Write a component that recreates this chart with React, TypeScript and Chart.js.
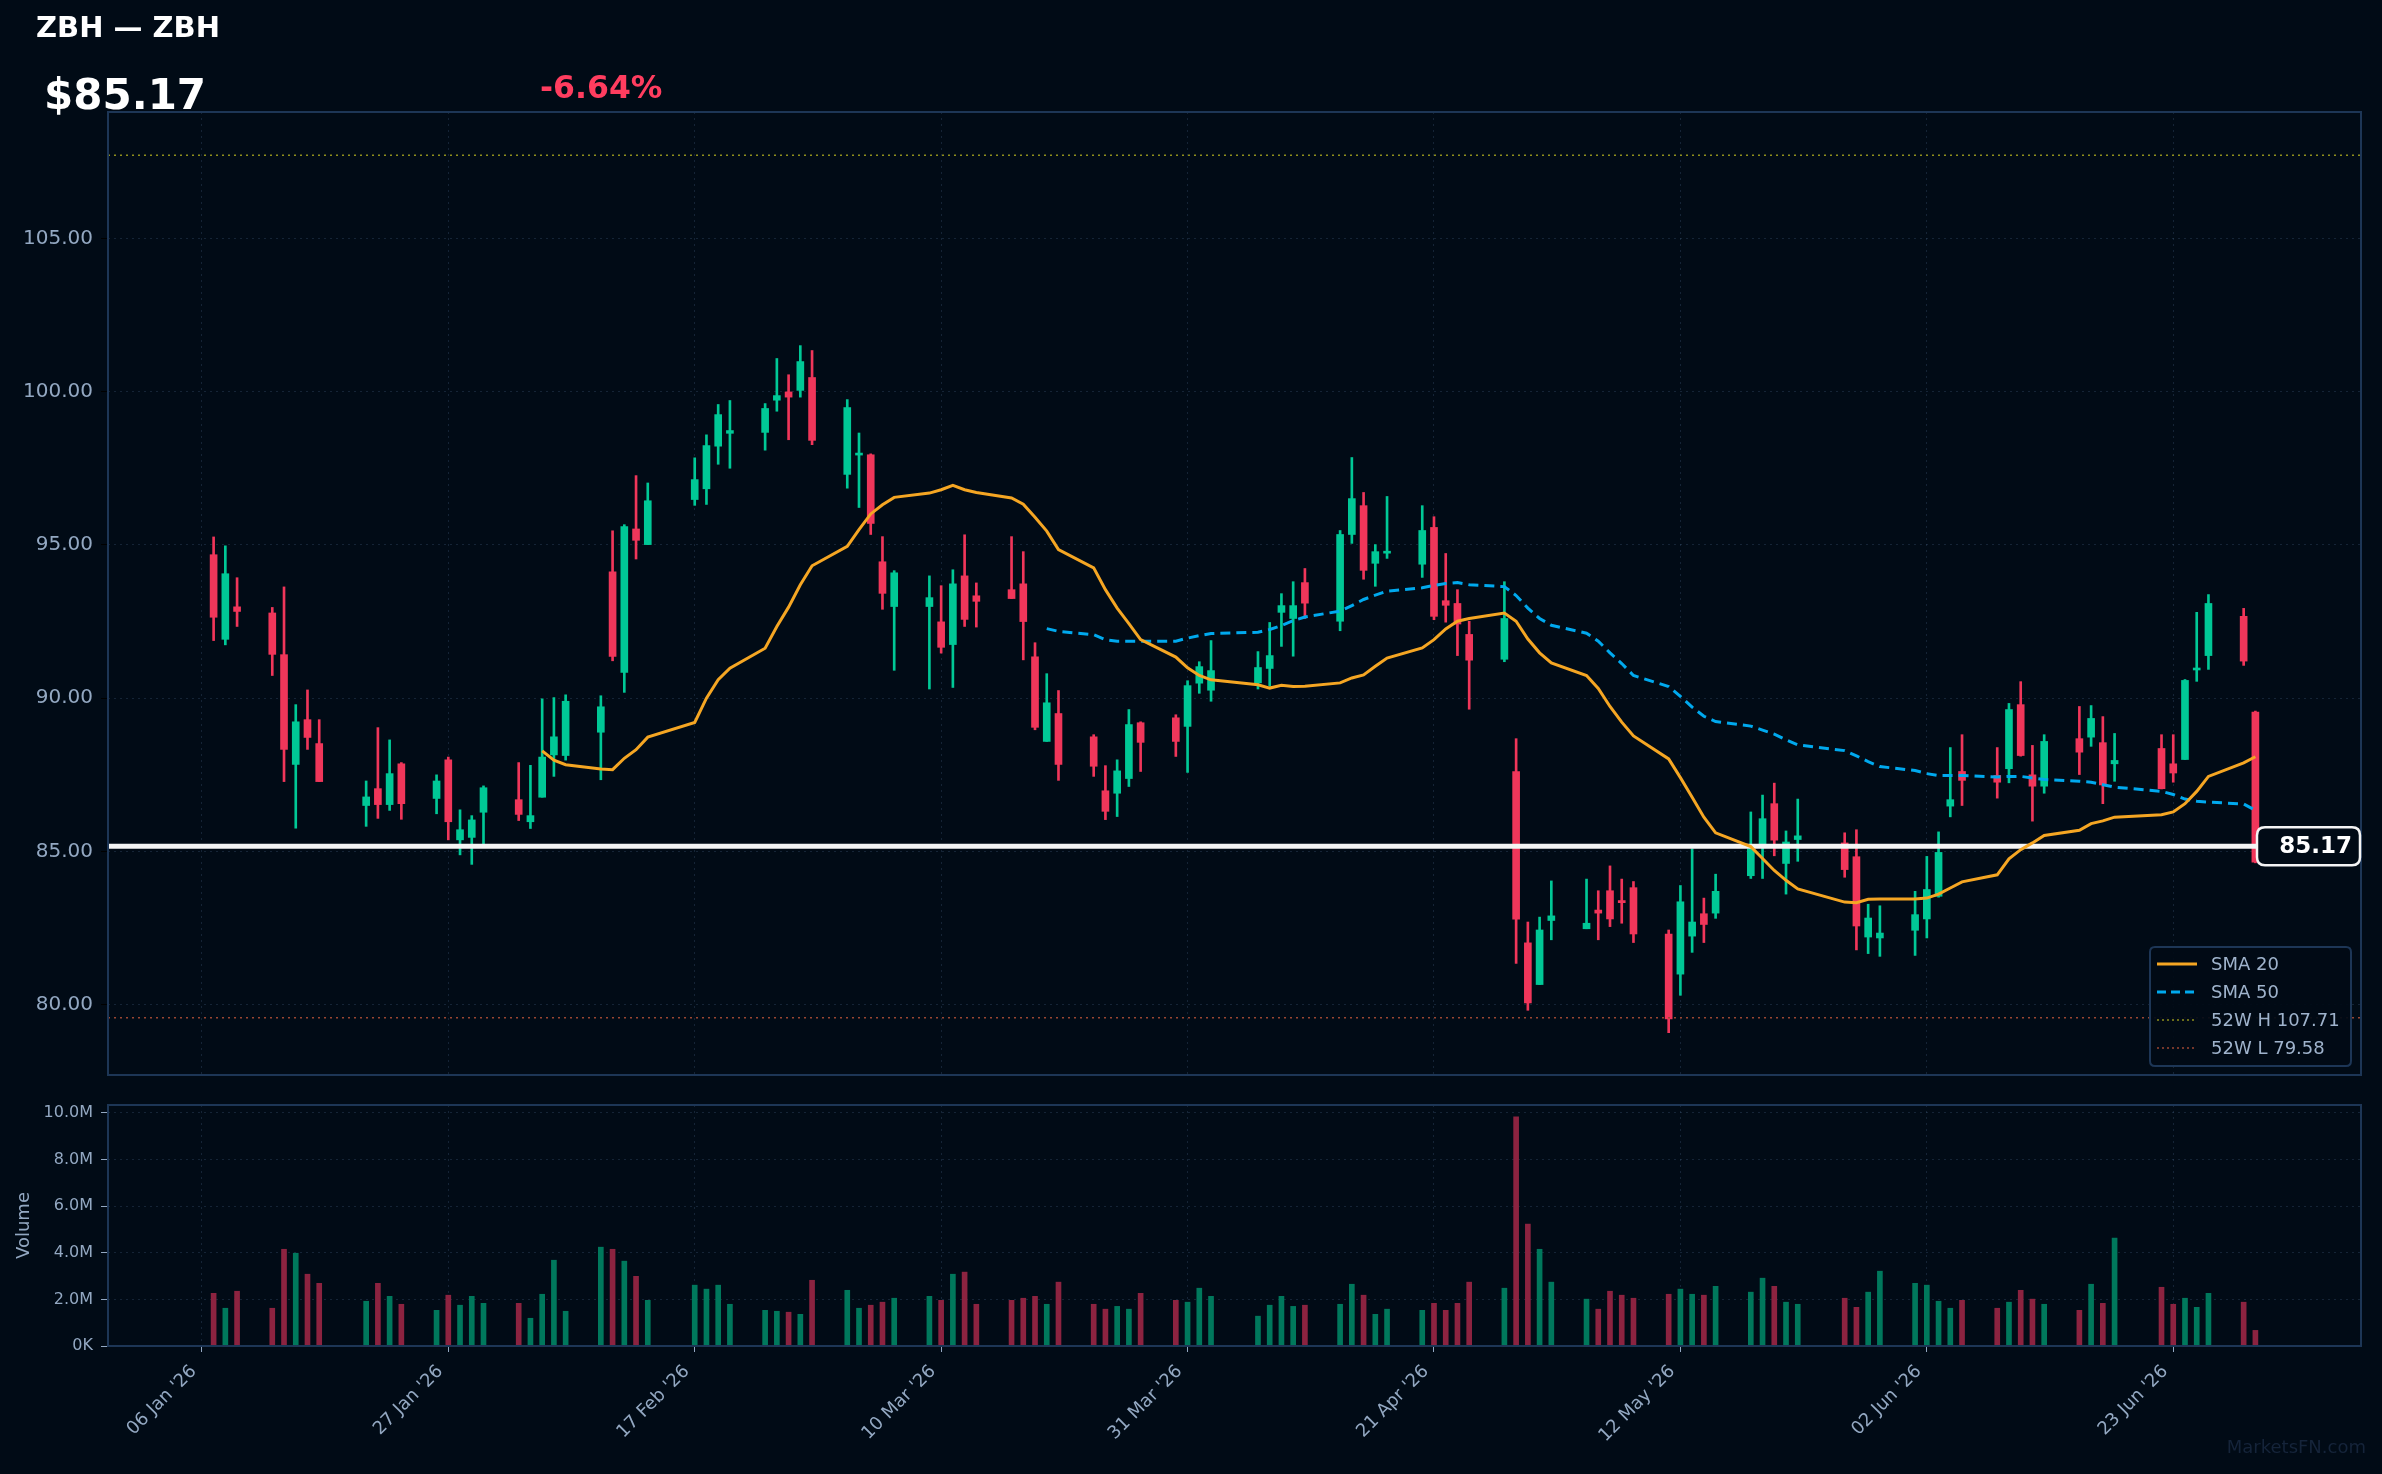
import React, { useEffect, useRef } from "react";
import { Chart, registerables } from "chart.js";

Chart.register(...registerables);

// ---------------- data ----------------
const TICKER = "ZBH — ZBH";
const LAST_PRICE = 85.17;
const CHANGE_PCT = -6.64;
const HIGH_52W = 107.71;
const LOW_52W = 79.58;

const DATES = [
  "2026-01-07","2026-01-08","2026-01-09","2026-01-12","2026-01-13","2026-01-14","2026-01-15","2026-01-16","2026-01-20","2026-01-21","2026-01-22","2026-01-23","2026-01-26","2026-01-27","2026-01-28","2026-01-29","2026-01-30",
  "2026-02-02","2026-02-03","2026-02-04","2026-02-05","2026-02-06","2026-02-09","2026-02-10","2026-02-11","2026-02-12","2026-02-13","2026-02-17","2026-02-18","2026-02-19","2026-02-20","2026-02-23","2026-02-24","2026-02-25","2026-02-26","2026-02-27",
  "2026-03-02","2026-03-03","2026-03-04","2026-03-05","2026-03-06","2026-03-09","2026-03-10","2026-03-11","2026-03-12","2026-03-13","2026-03-16","2026-03-17","2026-03-18","2026-03-19","2026-03-20","2026-03-23","2026-03-24","2026-03-25","2026-03-26","2026-03-27","2026-03-30","2026-03-31",
  "2026-04-01","2026-04-02","2026-04-06","2026-04-07","2026-04-08","2026-04-09","2026-04-10","2026-04-13","2026-04-14","2026-04-15","2026-04-16","2026-04-17","2026-04-20","2026-04-21","2026-04-22","2026-04-23","2026-04-24","2026-04-27","2026-04-28","2026-04-29","2026-04-30",
  "2026-05-01","2026-05-04","2026-05-05","2026-05-06","2026-05-07","2026-05-08","2026-05-11","2026-05-12","2026-05-13","2026-05-14","2026-05-15","2026-05-18","2026-05-19","2026-05-20","2026-05-21","2026-05-22","2026-05-26","2026-05-27","2026-05-28","2026-05-29",
  "2026-06-01","2026-06-02","2026-06-03","2026-06-04","2026-06-05","2026-06-08","2026-06-09","2026-06-10","2026-06-11","2026-06-12","2026-06-15","2026-06-16","2026-06-17","2026-06-18","2026-06-22","2026-06-23","2026-06-24","2026-06-25","2026-06-26","2026-06-29","2026-06-30",
];

const OPEN = [
  94.68, 91.92, 92.98, 92.78, 91.42, 87.84, 89.30, 88.52, 86.50, 87.05, 86.53, 87.86, 86.73, 87.99, 85.38, 85.46, 86.28,
  86.69, 85.97, 86.77, 88.15, 88.13, 88.89, 94.12, 90.84, 95.52, 95.01, 96.48, 96.83, 98.22, 98.64, 98.67, 99.72, 99.99, 100.04, 100.46,
  97.30, 97.93, 97.94, 94.45, 92.99, 92.99, 92.49, 91.75, 93.99, 93.34, 93.54, 93.73, 91.35, 88.59, 89.50, 88.74, 86.98, 86.90, 87.38, 89.20, 89.36, 89.08,
  90.49, 90.26, 90.50, 90.97, 92.80, 92.60, 93.77, 92.51, 95.34, 96.28, 94.40, 94.73, 94.37, 95.57, 93.18, 93.09, 92.08, 91.27, 87.61, 82.02, 80.66,
  82.75, 82.48, 83.09, 83.72, 83.40, 83.82, 82.31, 81.00, 82.24, 82.97, 82.99, 84.21, 85.22, 86.56, 84.61, 85.39, 85.28, 84.83, 82.21, 82.18,
  82.43, 82.80, 83.54, 86.48, 87.61, 87.48, 87.70, 89.79, 87.50, 87.13, 88.68, 88.73, 88.55, 87.86, 88.36, 87.86, 88.00, 90.92, 91.39, 92.67, 89.55,
];

const HIGH = [
  95.26, 94.97, 93.93, 92.96, 93.63, 89.79, 90.27, 89.30, 87.30, 89.04, 88.64, 87.90, 87.50, 88.08, 86.36, 86.17, 87.14,
  87.90, 87.81, 89.98, 90.02, 90.11, 90.08, 95.46, 95.66, 97.26, 97.02, 97.84, 98.59, 99.58, 99.71, 99.61, 101.08, 100.55, 101.50, 101.34,
  99.74, 98.65, 97.97, 95.27, 94.16, 93.99, 93.67, 94.19, 95.33, 93.76, 95.27, 94.78, 91.81, 90.80, 90.25, 88.81, 87.80, 87.99, 89.63, 89.23, 89.46, 90.57,
  91.19, 91.88, 91.52, 92.47, 93.41, 93.80, 94.23, 95.47, 97.85, 96.71, 95.01, 96.58, 96.28, 95.92, 94.72, 93.54, 92.51, 93.80, 88.68, 82.70, 82.86,
  84.04, 84.10, 83.72, 84.53, 84.10, 84.02, 82.44, 83.89, 85.09, 83.48, 84.26, 86.29, 86.84, 87.23, 85.67, 86.71, 85.61, 85.71, 83.28, 83.23,
  83.70, 84.84, 85.64, 88.39, 88.81, 88.39, 89.83, 90.54, 88.46, 88.81, 89.73, 89.76, 89.40, 88.85, 88.81, 88.81, 90.61, 92.80, 93.38, 92.93, 89.58,
];

const LOW = [
  91.88, 91.74, 92.34, 90.74, 87.28, 85.76, 88.33, 87.28, 85.82, 86.08, 86.34, 86.05, 86.23, 85.38, 84.89, 84.58, 85.18,
  86.01, 85.75, 86.77, 87.45, 87.98, 87.34, 91.22, 90.19, 94.54, 95.01, 96.29, 96.32, 97.63, 97.50, 98.09, 99.36, 98.43, 99.82, 98.27,
  96.85, 96.22, 95.34, 92.90, 90.91, 90.30, 91.47, 90.35, 92.34, 92.32, 93.25, 91.25, 88.97, 88.59, 87.32, 87.45, 86.04, 86.14, 87.12, 87.61, 88.10, 87.58,
  90.16, 89.90, 90.30, 90.39, 91.69, 91.37, 92.60, 92.20, 95.05, 93.88, 93.65, 94.56, 93.94, 92.56, 92.48, 91.39, 89.64, 91.19, 81.35, 79.82, 80.66,
  82.12, 82.48, 82.12, 82.55, 82.66, 82.03, 79.09, 80.31, 81.71, 82.03, 82.82, 84.12, 84.12, 84.86, 83.61, 84.68, 84.16, 81.79, 81.67, 81.58,
  81.61, 82.18, 83.51, 86.13, 86.50, 86.74, 87.24, 88.11, 85.99, 86.90, 87.51, 88.43, 86.56, 87.29, 87.04, 87.26, 88.00, 90.55, 90.94, 91.07, 84.63,
];

const CLOSE = [
  92.64, 94.06, 92.83, 91.43, 88.33, 89.23, 88.72, 87.28, 86.78, 86.53, 87.54, 86.56, 87.30, 85.97, 85.71, 86.03, 87.08,
  86.21, 86.17, 88.08, 88.74, 89.90, 89.72, 91.36, 95.60, 95.15, 96.44, 97.13, 98.24, 99.25, 98.73, 99.45, 99.87, 99.82, 100.98, 98.41,
  99.48, 97.97, 95.70, 93.42, 94.09, 93.28, 91.66, 93.73, 92.57, 93.16, 93.25, 92.50, 89.05, 89.85, 87.84, 87.78, 86.31, 87.63, 89.14, 88.56, 88.59, 90.41,
  91.03, 90.90, 91.00, 91.39, 93.02, 93.02, 93.10, 95.34, 96.51, 94.17, 94.78, 94.78, 95.47, 92.67, 93.03, 92.42, 91.24, 92.60, 82.79, 80.06, 82.44,
  82.90, 82.66, 82.99, 82.80, 83.33, 82.31, 79.54, 83.36, 82.70, 82.62, 83.70, 85.09, 86.07, 85.37, 85.31, 85.51, 84.41, 82.57, 82.83, 82.34,
  82.94, 83.76, 84.97, 86.69, 87.32, 87.26, 89.63, 88.13, 87.13, 88.59, 88.24, 89.34, 87.17, 87.97, 87.05, 87.56, 90.58, 90.97, 93.09, 91.21, 84.65,
];

// volume in millions of shares
const VOLUME = [
  2.26, 1.62, 2.35, 1.62, 4.15, 3.98, 3.08, 2.69, 1.92, 2.69, 2.13, 1.79, 1.53, 2.18, 1.75, 2.13, 1.83,
  1.83, 1.19, 2.22, 3.68, 1.49, 4.24, 4.15, 3.64, 2.99, 1.96, 2.61, 2.44, 2.61, 1.79, 1.53, 1.49, 1.45, 1.36, 2.82,
  2.39, 1.62, 1.75, 1.88, 2.05, 2.13, 1.96, 3.08, 3.17, 1.79, 1.96, 2.05, 2.13, 1.79, 2.74, 1.79, 1.58, 1.70, 1.58, 2.26, 1.96, 1.88,
  2.48, 2.13, 1.28, 1.75, 2.13, 1.70, 1.75, 1.79, 2.65, 2.18, 1.36, 1.58, 1.53, 1.83, 1.53, 1.83, 2.74, 2.48, 9.83, 5.23, 4.15,
  2.74, 2.01, 1.58, 2.35, 2.18, 2.05, 2.22, 2.44, 2.22, 2.18, 2.56, 2.31, 2.91, 2.56, 1.88, 1.79, 2.05, 1.66, 2.31, 3.21,
  2.69, 2.61, 1.92, 1.62, 1.96, 1.62, 1.88, 2.39, 2.01, 1.79, 1.53, 2.65, 1.83, 4.63, 2.52, 1.79, 2.05, 1.66, 2.26, 1.88, 0.67,
];

// SMA 20 from 2026-02-04 onward, SMA 50 from 2026-03-19 onward (as drawn)
const SMA20_START = "2026-02-04";
const SMA20 = [
  88.28, 87.98, 87.83, 87.69, 87.67, 88.04, 88.32, 88.73, 89.21, 90.00, 90.60, 90.98, 91.63, 92.34, 92.97, 93.70, 94.32,
  94.95, 95.50, 96.01, 96.31, 96.55, 96.69, 96.80, 96.94, 96.80, 96.71, 96.53, 96.33, 95.90, 95.45, 94.85, 94.25, 93.54, 92.94, 92.43, 91.91, 91.34, 90.99,
  90.74, 90.60, 90.44, 90.33, 90.42, 90.38, 90.39, 90.50, 90.66, 90.76, 91.04, 91.31, 91.64, 91.91, 92.26, 92.51, 92.60, 92.78, 92.51, 91.93, 91.48,
  91.15, 90.74, 90.32, 89.73, 89.22, 88.77, 88.02, 87.41, 86.77, 86.12, 85.61, 85.16, 84.77, 84.38, 84.06, 83.78, 83.35, 83.33, 83.44, 83.45,
  83.45, 83.48, 83.61, 83.81, 84.01, 84.24, 84.76, 85.06, 85.28, 85.52, 85.69, 85.91, 86.00, 86.12, 86.20, 86.29, 86.56, 86.96, 87.45, 87.89, 88.09,
];
const SMA50_START = "2026-03-19";
const SMA50 = [
  92.27, 92.18, 92.07, 91.91, 91.86, 91.86, 91.86, 91.86, 91.96,
  92.04, 92.11, 92.15, 92.24, 92.37, 92.53, 92.65, 92.84, 93.02, 93.22, 93.36, 93.49, 93.60, 93.68, 93.74, 93.77, 93.70, 93.64, 93.35, 92.94, 92.60,
  92.38, 92.12, 91.86, 91.48, 91.13, 90.74, 90.38, 90.06, 89.71, 89.41, 89.24, 89.09, 88.96, 88.83, 88.64, 88.48, 88.29, 88.12, 87.93, 87.77,
  87.64, 87.54, 87.48, 87.48, 87.48, 87.43, 87.45, 87.45, 87.40, 87.35, 87.29, 87.26, 87.18, 87.10, 86.96, 86.86, 86.71, 86.64, 86.61, 86.55, 86.34,
];

const DATE_TICKS = ["2026-01-06","2026-01-27","2026-02-17","2026-03-10","2026-03-31","2026-04-21","2026-05-12","2026-06-02","2026-06-23"];
const DATE_TICK_LABELS = ["06 Jan '26","27 Jan '26","17 Feb '26","10 Mar '26","31 Mar '26","21 Apr '26","12 May '26","02 Jun '26","23 Jun '26"];
const PRICE_TICKS = [80, 85, 90, 95, 100, 105];
const VOLUME_TICKS = [0, 2, 4, 6, 8, 10]; // millions

// ---------------- styling ----------------
const W = 2382;
const H = 1474;
const FONT = "'DejaVu Sans', 'Noto Sans', sans-serif";
const BG = "#010b16";
const PANEL_BORDER = "#1d3656";
const TICK_TEXT = "#93a8c2";
const GRID = "rgba(70,95,130,0.30)";
const UP = "#00c896";
const DOWN = "#f0365a";
const UP_VOL = "#00785c";
const DOWN_VOL = "#8c2340";
const SMA20_COLOR = "#f5a623";
const SMA50_COLOR = "#00a9ee";
const H52_COLOR = "#8f8f1c";
const L52_COLOR = "#9a4632";

function dayNum(s: string): number {
  const y = +s.slice(0, 4), m = +s.slice(5, 7) - 1, d = +s.slice(8, 10);
  return (Date.UTC(y, m, d) - Date.UTC(2026, 0, 1)) / 86400000;
}

const noPad = (s: any) => {
  s.paddingTop = 0;
  s.paddingBottom = 0;
  s.paddingLeft = 0;
  s.paddingRight = 0;
};

export default function App() {
  const priceRef = useRef<HTMLCanvasElement>(null);
  const volRef = useRef<HTMLCanvasElement>(null);

  useEffect(() => {
    Chart.defaults.font.family = FONT;
    const xDays = DATES.map(dayNum);
    const X_MIN = xDays[0] - 9;
    const X_MAX = xDays[xDays.length - 1] + 9;
    const tickDays = DATE_TICKS.map(dayNum);
    const Y_MIN = 77.71;
    const Y_MAX = 109.12;
    const VOL_MAX = 10.34e6;

    const up = (i: number) => CLOSE[i] >= OPEN[i];
    const candleColors = xDays.map((_, i) => (up(i) ? UP : DOWN));
    const volColors = xDays.map((_, i) => (up(i) ? UP_VOL : DOWN_VOL));

    const s20 = DATES.indexOf(SMA20_START);
    const s50 = DATES.indexOf(SMA50_START);
    const sma20Data = SMA20.map((v, k) => ({ x: xDays[s20 + k], y: v }));
    const sma50Data = SMA50.map((v, k) => ({ x: xDays[s50 + k], y: v }));

    const bgPlugin = {
      id: "bg",
      beforeDraw(chart: any) {
        const ctx = chart.ctx;
        ctx.save();
        ctx.fillStyle = BG;
        ctx.fillRect(0, 0, chart.width, chart.height);
        ctx.restore();
      },
    };

    const borderPlugin = {
      id: "panelBorder",
      afterDraw(chart: any) {
        const { ctx, chartArea: a } = chart;
        ctx.save();
        ctx.strokeStyle = PANEL_BORDER;
        ctx.lineWidth = 2;
        ctx.strokeRect(a.left, a.top, a.right - a.left, a.bottom - a.top);
        ctx.restore();
      },
    };

    const rr = (ctx: any, x: number, y: number, w: number, h: number, r: number) => {
      ctx.beginPath();
      ctx.moveTo(x + r, y);
      ctx.lineTo(x + w - r, y);
      ctx.quadraticCurveTo(x + w, y, x + w, y + r);
      ctx.lineTo(x + w, y + h - r);
      ctx.quadraticCurveTo(x + w, y + h, x + w - r, y + h);
      ctx.lineTo(x + r, y + h);
      ctx.quadraticCurveTo(x, y + h, x, y + h - r);
      ctx.lineTo(x, y + r);
      ctx.quadraticCurveTo(x, y, x + r, y);
      ctx.closePath();
    };

    const decoPlugin = {
      id: "priceDeco",
      afterDraw(chart: any) {
        const { ctx, chartArea: a, scales } = chart;
        ctx.save();
        // header texts
        ctx.textBaseline = "alphabetic";
        ctx.textAlign = "left";
        ctx.fillStyle = "#ffffff";
        ctx.font = `bold 29px ${FONT}`;
        ctx.fillText(TICKER, 36, 37);
        ctx.font = `bold 42px ${FONT}`;
        ctx.fillText(`$${LAST_PRICE.toFixed(2)}`, 44, 109);
        ctx.fillStyle = CHANGE_PCT < 0 ? "#ff3d5f" : UP;
        ctx.font = `bold 31.5px ${FONT}`;
        ctx.fillText(`${CHANGE_PCT.toFixed(2)}%`, 540, 98);

        // last price label box
        const py = scales.y.getPixelForValue(LAST_PRICE);
        const bx = a.right - 104, bw = 103, bh = 38;
        rr(ctx, bx, py - bh / 2, bw, bh, 8);
        ctx.fillStyle = BG;
        ctx.fill();
        ctx.lineWidth = 2.5;
        ctx.strokeStyle = "#f4f4f4";
        ctx.stroke();
        ctx.fillStyle = "#ffffff";
        ctx.font = `bold 23px ${FONT}`;
        ctx.textAlign = "right";
        ctx.textBaseline = "middle";
        ctx.fillText(LAST_PRICE.toFixed(2), a.right - 9, py + 1);

        // legend
        const lx = a.right - 211, ly = a.bottom - 128, lw = 201, lh = 119;
        rr(ctx, lx, ly, lw, lh, 5);
        ctx.fillStyle = "rgba(1,11,22,0.92)";
        ctx.fill();
        ctx.lineWidth = 2;
        ctx.strokeStyle = PANEL_BORDER;
        ctx.stroke();
        const items = [
          { label: "SMA 20", color: SMA20_COLOR, dash: [] as number[], w: 3 },
          { label: "SMA 50", color: SMA50_COLOR, dash: [9, 5], w: 3 },
          { label: `52W H ${HIGH_52W.toFixed(2)}`, color: H52_COLOR, dash: [2, 3], w: 1.5 },
          { label: `52W L ${LOW_52W.toFixed(2)}`, color: L52_COLOR, dash: [2, 3], w: 1.5 },
        ];
        ctx.font = `18px ${FONT}`;
        ctx.textAlign = "left";
        ctx.textBaseline = "middle";
        items.forEach((it, k) => {
          const y = ly + 17 + k * 28;
          ctx.beginPath();
          ctx.setLineDash(it.dash);
          ctx.strokeStyle = it.color;
          ctx.lineWidth = it.w;
          ctx.moveTo(lx + 7, y);
          ctx.lineTo(lx + 47, y);
          ctx.stroke();
          ctx.setLineDash([]);
          ctx.fillStyle = "#9fb3cc";
          ctx.fillText(it.label, lx + 61, y + 1);
        });
        ctx.restore();
      },
    };

    const gridCommon = { color: GRID, lineWidth: 1 };

    const price = new Chart(priceRef.current as HTMLCanvasElement, {
      type: "bar",
      data: {
        datasets: [
          {
            type: "line",
            label: "SMA 20",
            data: sma20Data,
            borderColor: SMA20_COLOR,
            borderWidth: 3,
            pointRadius: 0,
            tension: 0,
            order: 0,
          } as any,
          {
            type: "line",
            label: "SMA 50",
            data: sma50Data,
            borderColor: SMA50_COLOR,
            borderWidth: 3,
            borderDash: [10, 6],
            pointRadius: 0,
            tension: 0,
            order: 1,
          } as any,
          {
            type: "line",
            label: "Last",
            data: [{ x: X_MIN, y: LAST_PRICE }, { x: X_MAX, y: LAST_PRICE }],
            borderColor: "#f4f4f4",
            borderWidth: 5,
            pointRadius: 0,
            order: 2,
          } as any,
          {
            type: "line",
            label: "52W H",
            data: [{ x: X_MIN, y: HIGH_52W }, { x: X_MAX, y: HIGH_52W }],
            borderColor: H52_COLOR,
            borderWidth: 1.5,
            borderDash: [2, 4],
            pointRadius: 0,
            order: 3,
          } as any,
          {
            type: "line",
            label: "52W L",
            data: [{ x: X_MIN, y: LOW_52W }, { x: X_MAX, y: LOW_52W }],
            borderColor: L52_COLOR,
            borderWidth: 1.5,
            borderDash: [2, 4],
            pointRadius: 0,
            order: 3,
          } as any,
          {
            type: "bar",
            label: "Body",
            data: xDays.map((x, i) => ({ x, y: [OPEN[i], CLOSE[i]] })),
            backgroundColor: candleColors,
            borderWidth: 0,
            barThickness: 7,
            minBarLength: 2,
            grouped: false,
            order: 4,
          } as any,
          {
            type: "bar",
            label: "Wick",
            data: xDays.map((x, i) => ({ x, y: [LOW[i], HIGH[i]] })),
            backgroundColor: candleColors,
            borderWidth: 0,
            barThickness: 2,
            grouped: false,
            order: 5,
          } as any,
        ],
      },
      options: {
        responsive: false,
        animation: false,
        devicePixelRatio: 1,
        events: [],
        layout: { padding: { top: 112, right: 21, bottom: 5, left: 0 } },
        plugins: { legend: { display: false }, tooltip: { enabled: false } },
        scales: {
          x: {
            type: "linear",
            min: X_MIN,
            max: X_MAX,
            offset: false,
            afterBuildTicks: (s: any) => {
              s.ticks = tickDays.map((v) => ({ value: v }));
            },
            afterFit: (s: any) => {
              s.height = 0;
              noPad(s);
            },
            ticks: { display: false },
            grid: { ...gridCommon, offset: false, drawTicks: false },
            border: { display: false, dash: [2, 4] },
          },
          y: {
            type: "linear",
            min: Y_MIN,
            max: Y_MAX,
            afterBuildTicks: (s: any) => {
              s.ticks = PRICE_TICKS.map((v) => ({ value: v }));
            },
            afterFit: (s: any) => {
              s.width = 108;
              noPad(s);
            },
            ticks: {
              color: TICK_TEXT,
              font: { size: 20, family: FONT },
              padding: 8,
              callback: (v: any) => Number(v).toFixed(2),
            },
            grid: { ...gridCommon, tickLength: 7, tickColor: "#000000" },
            border: { display: false, dash: [2, 4] },
          },
        },
      } as any,
      plugins: [bgPlugin, borderPlugin, decoPlugin],
    });

    const wmPlugin = {
      id: "watermark",
      afterDraw(chart: any) {
        const ctx = chart.ctx;
        ctx.save();
        ctx.fillStyle = "#15243a";
        ctx.font = `18px ${FONT}`;
        ctx.textAlign = "right";
        ctx.textBaseline = "alphabetic";
        ctx.fillText("MarketsFN.com", 2366, 363);
        ctx.restore();
      },
    };

    const vol = new Chart(volRef.current as HTMLCanvasElement, {
      type: "bar",
      data: {
        datasets: [
          {
            label: "Volume",
            data: xDays.map((x, i) => ({ x, y: VOLUME[i] * 1e6 })),
            backgroundColor: volColors,
            borderWidth: 0,
            barThickness: 5,
            grouped: false,
          } as any,
        ],
      },
      options: {
        responsive: false,
        animation: false,
        devicePixelRatio: 1,
        events: [],
        layout: { padding: { top: 15, right: 21, bottom: 0, left: 0 } },
        plugins: { legend: { display: false }, tooltip: { enabled: false } },
        scales: {
          x: {
            type: "linear",
            min: X_MIN,
            max: X_MAX,
            offset: false,
            afterBuildTicks: (s: any) => {
              s.ticks = tickDays.map((v) => ({ value: v }));
            },
            afterFit: (s: any) => {
              s.height = 128;
              noPad(s);
            },
            ticks: {
              color: TICK_TEXT,
              font: { size: 18, family: FONT },
              minRotation: 45,
              maxRotation: 45,
              padding: 9,
              labelOffset: -8,
              autoSkip: false,
              callback: (v: any) => {
                const k = tickDays.indexOf(Number(v));
                return k >= 0 ? DATE_TICK_LABELS[k] : "";
              },
            },
            grid: { ...gridCommon, offset: false, tickLength: 6, tickColor: TICK_TEXT },
            border: { display: false, dash: [2, 4] },
          },
          y: {
            type: "linear",
            min: 0,
            max: VOL_MAX,
            afterBuildTicks: (s: any) => {
              s.ticks = VOLUME_TICKS.map((v) => ({ value: v * 1e6 }));
            },
            afterFit: (s: any) => {
              s.width = 108;
              noPad(s);
            },
            title: {
              display: true,
              text: "Volume",
              color: TICK_TEXT,
              font: { size: 18, family: FONT },
              padding: { top: 14, bottom: 0 },
            },
            ticks: {
              color: TICK_TEXT,
              font: { size: 16, family: FONT },
              padding: 8,
              callback: (v: any) => (Number(v) === 0 ? "0K" : (Number(v) / 1e6).toFixed(1) + "M"),
            },
            grid: { ...gridCommon, tickLength: 7, tickColor: TICK_TEXT },
            border: { display: false, dash: [2, 4] },
          },
        },
      } as any,
      plugins: [bgPlugin, borderPlugin, wmPlugin],
    });

    return () => {
      price.destroy();
      vol.destroy();
    };
  }, []);

  return (
    <div
      style={{
        position: "fixed",
        left: 0,
        top: 0,
        width: W,
        height: H,
        background: BG,
        overflow: "hidden",
      }}
    >
      <canvas ref={priceRef} width={W} height={1080} style={{ position: "absolute", left: 0, top: 0, width: W, height: 1080 }} />
      <canvas ref={volRef} width={W} height={384} style={{ position: "absolute", left: 0, top: 1090, width: W, height: 384 }} />
    </div>
  );
}
